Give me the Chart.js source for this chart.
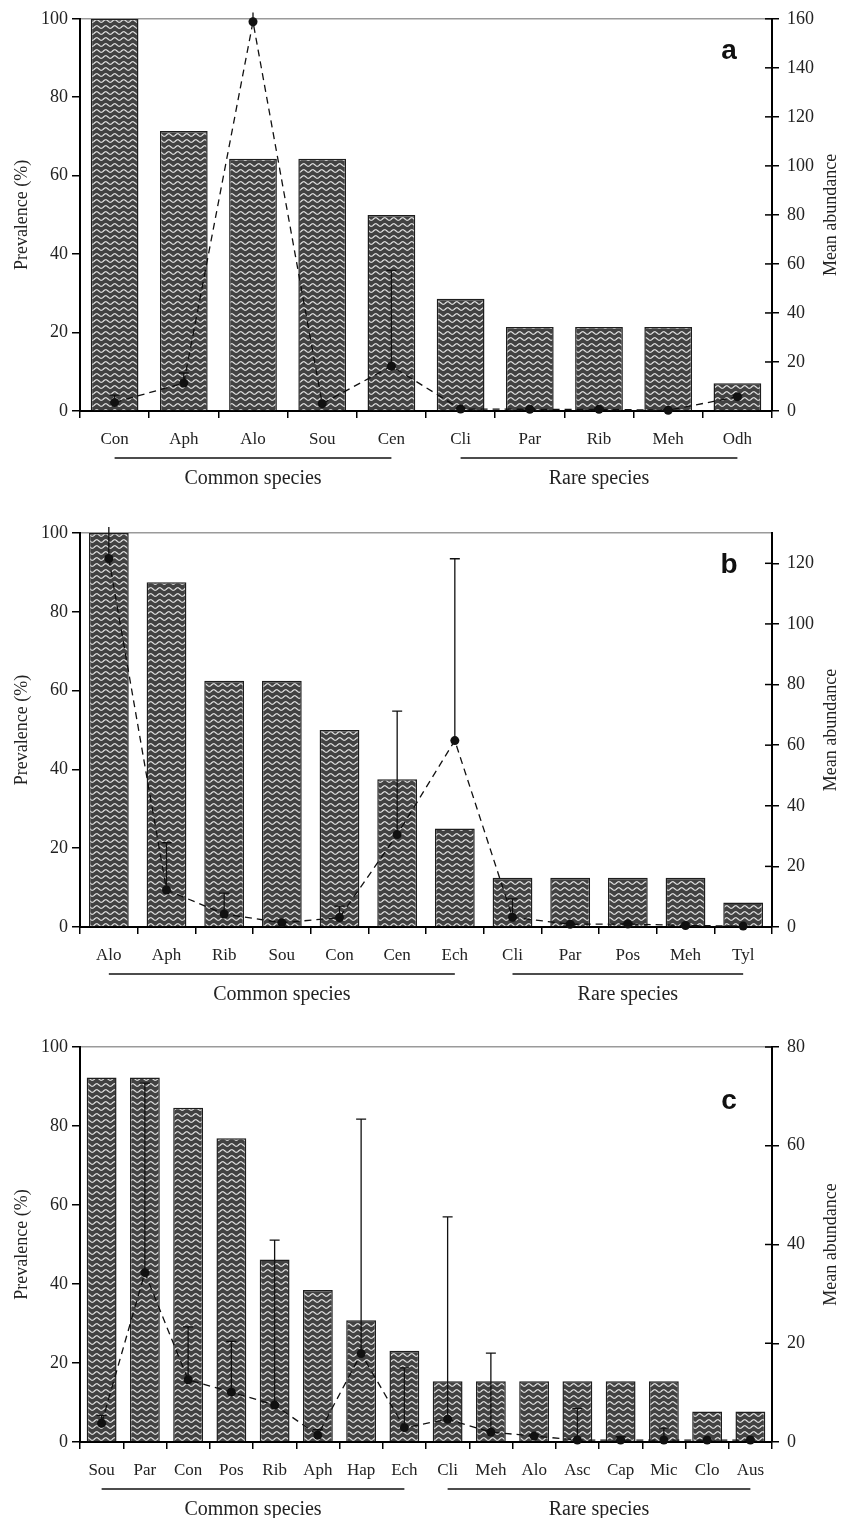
<!DOCTYPE html>
<html>
<head>
<meta charset="utf-8">
<script src="https://cdn.jsdelivr.net/npm/chart.js@4.4.1/dist/chart.umd.min.js"></script>
<style>
  body { margin: 0; background: #fff; }
  canvas { position: absolute; left: 0; }
</style>
</head>
<body>
<canvas id="chartA" style="top:0px" width="853" height="490"></canvas>
<canvas id="chartB" style="top:490px" width="853" height="520"></canvas>
<canvas id="chartC" style="top:1010px" width="853" height="508"></canvas>
<script>
// panel a
const catsA = ['Con', 'Aph', 'Alo', 'Sou', 'Cen', 'Cli', 'Par', 'Rib', 'Meh', 'Odh'];
const prevA = [100, 71.4, 64.3, 64.3, 50, 28.6, 21.4, 21.4, 21.4, 7.1];
const meanA = [3.5, 11.4, 158.8, 3.0, 18.3, 0.8, 0.7, 0.7, 0.3, 5.8];
const errA  = [6.5, 15.5, 162.6, 3.0, 57.4, 1.2, 1.0, 1.2, 0.5, 6.5];

// panel b
const catsB = ['Alo', 'Aph', 'Rib', 'Sou', 'Con', 'Cen', 'Ech', 'Cli', 'Par', 'Pos', 'Meh', 'Tyl'];
const prevB = [100, 87.5, 62.5, 62.5, 50, 37.5, 25, 12.5, 12.5, 12.5, 12.5, 6.25];
const meanB = [121.6, 12.2, 4.3, 1.4, 3.1, 30.5, 61.5, 3.2, 0.9, 1.0, 0.5, 0.3];
const errB  = [132, 27.8, 11.2, 1.4, 6.9, 71.2, 121.5, 9.3, 1.2, 1.3, 1.0, 0.3];

// panel c
const catsC = ['Sou', 'Par', 'Con', 'Pos', 'Rib', 'Aph', 'Hap', 'Ech', 'Cli', 'Meh', 'Alo', 'Asc', 'Cap', 'Mic', 'Clo', 'Aus'];
const prevC = [92.3, 92.3, 84.6, 76.9, 46.2, 38.5, 30.8, 23.1, 15.4, 15.4, 15.4, 15.4, 15.4, 15.4, 7.7, 7.7];
const meanC = [3.8, 34.3, 12.6, 10.1, 7.5, 1.4, 17.9, 2.9, 4.6, 2.0, 1.2, 0.4, 0.4, 0.4, 0.4, 0.4];
const errC  = [5.4, 72.7, 23.3, 20.4, 40.9, 2.5, 65.4, 15.0, 45.6, 18.0, 1.5, 6.8, 1.1, 2.8, 0.4, 0.4];

const rightMaxA = 160, rightMaxB = 130, rightMaxC = 80;

Chart.defaults.font.family = "'Liberation Serif', 'DejaVu Serif', serif";
Chart.defaults.font.size = 17;
Chart.defaults.color = '#222';

// wavy fill like the printed bars
function wavyPattern() {
  const t = document.createElement('canvas');
  t.width = 9; t.height = 6;
  const c = t.getContext('2d');
  c.fillStyle = '#424242';
  c.fillRect(0, 0, 9, 6);
  c.strokeStyle = '#e2e2e2';
  c.lineWidth = 1.2;
  c.beginPath();
  for (let x = -1; x <= 10; x += 0.25) {
    const y = 3 + 1.3 * Math.sin(2 * Math.PI * x / 9);
    if (x === -1) c.moveTo(x, y); else c.lineTo(x, y);
  }
  c.stroke();
  return c.createPattern(t, 'repeat');
}
const pattern = wavyPattern();

const extras = {
  id: 'extras',
  afterDatasetsDraw(chart, args, o) {
    const ctx = chart.ctx, area = chart.chartArea;
    const x = chart.scales.x, yR = chart.scales.yR;
    const pts = chart.getDatasetMeta(1).data;
    ctx.save();
    // error bars
    ctx.strokeStyle = '#111';
    ctx.lineWidth = 1.3;
    o.err.forEach((top, i) => {
      if (top <= o.mean[i]) return;
      const p = pts[i];
      const yt = yR.getPixelForValue(top);
      ctx.beginPath();
      ctx.moveTo(p.x, p.y);
      ctx.lineTo(p.x, yt);
      if (top <= yR.max) {
        ctx.moveTo(p.x - 5, yt);
        ctx.lineTo(p.x + 5, yt);
      }
      ctx.stroke();
    });
    // inner half of right axis ticks
    ctx.strokeStyle = '#000';
    ctx.lineWidth = 1.5;
    yR.ticks.forEach(t => {
      const y = yR.getPixelForValue(t.value);
      ctx.beginPath();
      ctx.moveTo(area.right - 7, y);
      ctx.lineTo(area.right, y);
      ctx.stroke();
    });
    // group lines and names
    ctx.lineWidth = 1.3;
    ctx.strokeStyle = '#111';
    ctx.fillStyle = '#222';
    ctx.font = "20px 'Liberation Serif', serif";
    ctx.textAlign = 'center';
    ctx.textBaseline = 'middle';
    o.groups.forEach(g => {
      const x1 = x.getPixelForValue(o.cats.indexOf(g.from));
      const x2 = x.getPixelForValue(o.cats.indexOf(g.to));
      const yl = area.bottom + 47;
      ctx.beginPath();
      ctx.moveTo(x1, yl);
      ctx.lineTo(x2, yl);
      ctx.stroke();
      ctx.fillText(g.label, (x1 + x2) / 2, area.bottom + 68);
    });
    // axis titles
    ctx.font = "18px 'Liberation Serif', serif";
    const yc = (area.top + area.bottom) / 2;
    ctx.save();
    ctx.translate(22, yc);
    ctx.rotate(-Math.PI / 2);
    ctx.fillText('Prevalence (%)', 0, 0);
    ctx.restore();
    ctx.save();
    ctx.translate(831, yc);
    ctx.rotate(-Math.PI / 2);
    ctx.fillText('Mean abundance', 0, 0);
    ctx.restore();
    // panel letter
    ctx.font = "bold 28px 'Liberation Sans', Arial, sans-serif";
    ctx.fillStyle = '#111';
    ctx.fillText(o.letter, area.right - 43, area.top + o.letterDy);
    ctx.restore();
  }
};

function makePanel(id, cats, prev, mean, err, rMax, letter, letterDy, top, bottom, lastCommon) {
  const el = document.getElementById(id);
  const H = el.height;
  return new Chart(el.getContext('2d'), {
    data: {
      labels: cats,
      datasets: [{
        type: 'bar',
        data: prev,
        yAxisID: 'y',
        backgroundColor: pattern,
        borderColor: '#1e1e1e',
        borderWidth: 1.5,
        barPercentage: 0.69,
        categoryPercentage: 1,
        order: 2
      }, {
        type: 'line',
        data: mean,
        yAxisID: 'yR',
        borderColor: '#111',
        borderWidth: 1.3,
        borderDash: [7, 5],
        tension: 0,
        fill: false,
        pointRadius: 4.5,
        pointBackgroundColor: '#111',
        pointBorderWidth: 0,
        clip: false,
        order: 1
      }]
    },
    options: {
      responsive: false,
      animation: false,
      devicePixelRatio: 1,
      layout: { padding: { top: top, left: 0, right: 0, bottom: 0 } },
      plugins: {
        legend: { display: false },
        tooltip: { enabled: false },
        extras: {
          cats: cats, mean: mean, err: err, letter: letter, letterDy: letterDy,
          groups: [
            { label: 'Common species', from: cats[0], to: lastCommon },
            { label: 'Rare species', from: cats[cats.indexOf(lastCommon) + 1], to: cats[cats.length - 1] }
          ]
        }
      },
      scales: {
        x: {
          grid: { offset: true, drawOnChartArea: false, tickLength: 7, tickColor: '#000', lineWidth: 1.5 },
          border: { display: true, color: '#000', width: 2 },
          ticks: { padding: 11, maxRotation: 0, autoSkip: false, color: '#222', font: { size: 17 } },
          afterFit: s => { s.height = H - bottom; }
        },
        y: {
          position: 'left',
          min: 0, max: 100,
          grid: {
            drawOnChartArea: true,
            color: c => c.tick.value === 100 ? '#9a9a9a' : 'rgba(0,0,0,0)',
            tickColor: '#000',
            tickLength: 8,
            lineWidth: 1.5
          },
          border: { display: true, color: '#000', width: 2 },
          ticks: { stepSize: 20, padding: 4, color: '#222', font: { size: 18 } },
          afterFit: s => { s.width = 80; }
        },
        yR: {
          position: 'right',
          min: 0, max: rMax,
          grid: { drawOnChartArea: false, tickColor: '#000', tickLength: 7, lineWidth: 1.5 },
          border: { display: true, color: '#000', width: 2 },
          ticks: { stepSize: 20, padding: 8, color: '#222', font: { size: 18 } },
          afterBuildTicks: s => { s.ticks = s.ticks.filter(t => t.value % 20 === 0); },
          afterFit: s => { s.width = 81; }
        }
      }
    },
    plugins: [extras]
  });
}

makePanel('chartA', catsA, prevA, meanA, errA, rightMaxA, 'a', 32, 18, 411, 'Cen');
makePanel('chartB', catsB, prevB, meanB, errB, rightMaxB, 'b', 32, 43, 437, 'Ech');
makePanel('chartC', catsC, prevC, meanC, errC, rightMaxC, 'c', 54, 37, 432, 'Ech');
</script>
</body>
</html>
